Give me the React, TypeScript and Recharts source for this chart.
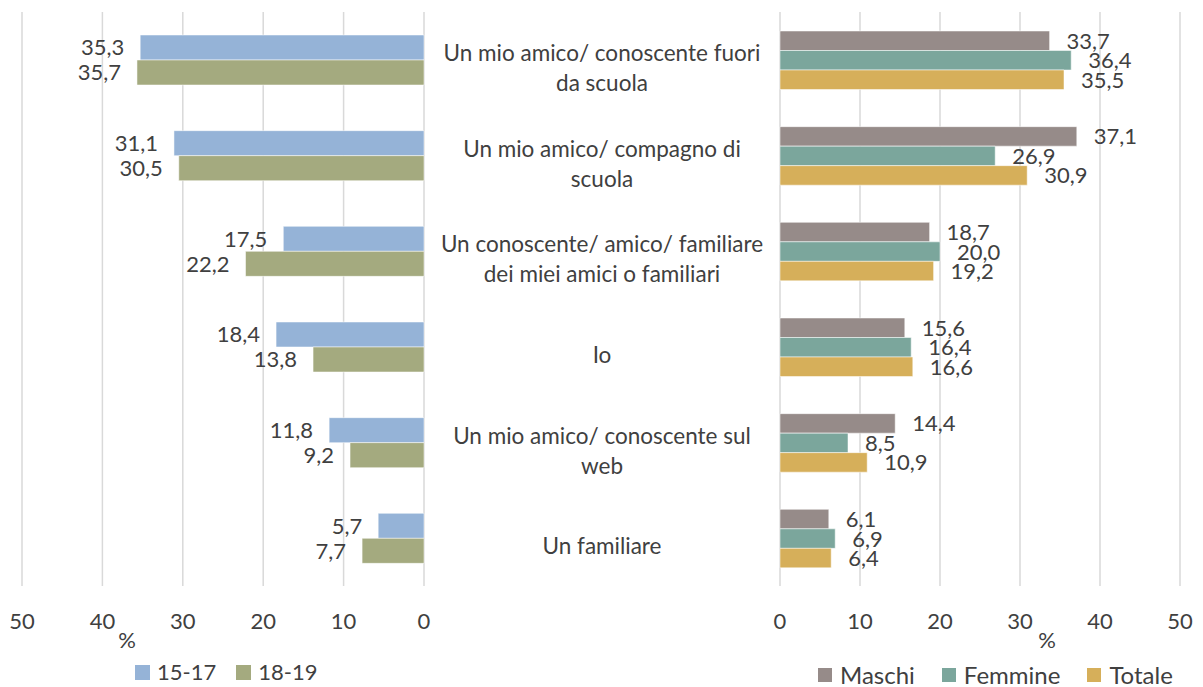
import React from "react";
import { BarChart, Bar, XAxis, YAxis, CartesianGrid, LabelList, Legend } from "recharts";

const categories = [
  "Un mio amico/ conoscente fuori\nda scuola",
  "Un mio amico/ compagno di\nscuola",
  "Un conoscente/ amico/ familiare\ndei miei amici o familiari",
  "Io",
  "Un mio amico/ conoscente sul\nweb",
  "Un familiare",
];
const age1517 = [35.3, 31.1, 17.5, 18.4, 11.8, 5.7];
const age1819 = [35.7, 30.5, 22.2, 13.8, 9.2, 7.7];
const maschi = [33.7, 37.1, 18.7, 15.6, 14.4, 6.1];
const femmine = [36.4, 26.9, 20.0, 16.4, 8.5, 6.9];
const totale = [35.5, 30.9, 19.2, 16.6, 10.9, 6.4];
const xTicks = [0, 10, 20, 30, 40, 50];
const ageNames = ["15-17", "18-19"];
const sexNames = ["Maschi", "Femmine", "Totale"];

const FONT = "Lato, 'Open Sans', sans-serif";
const TEXT = "#404040";
const GRID = "#D9D9D9";

const leftData = categories.map((name, i) => ({ name, a: age1517[i], b: age1819[i] }));
const rightData = categories.map((name, i) => ({
  name,
  m: maschi[i],
  f: femmine[i],
  t: totale[i],
}));

const fmt = (v: number) => v.toFixed(1).replace(".", ",");

function LeftValue(props: any) {
  const { x, y, width, height, value } = props;
  const edge = Math.min(x, x + width);
  return (
    <text x={edge - 16} y={y + height / 2} dy="0.36em" textAnchor="end" fill={TEXT} fontSize={22} fontFamily={FONT}>
      {fmt(value)}
    </text>
  );
}

function RightValue(props: any) {
  const { x, y, width, height, value } = props;
  const edge = Math.max(x, x + width);
  return (
    <text x={edge + 17} y={y + height / 2} dy="0.36em" textAnchor="start" fill={TEXT} fontSize={22} fontFamily={FONT}>
      {fmt(value)}
    </text>
  );
}

function CategoryTick(props: any) {
  const { x, y, payload } = props;
  const lines = String(payload.value).split("\n");
  const lh = 30;
  const cx = x - 178;
  const start = y + 8 - ((lines.length - 1) * lh) / 2;
  return (
    <text x={cx} y={start} textAnchor="middle" fill={TEXT} fontSize={22.5} fontFamily={FONT}>
      {lines.map((l, i) => (
        <tspan key={i} x={cx} y={start + i * lh} dy="0.36em">
          {l}
        </tspan>
      ))}
    </text>
  );
}

function SwatchLegend(props: any) {
  const { payload, order, box, gap, space, fontSize } = props;
  const items = [...(payload || [])].sort(
    (p: any, q: any) => order.indexOf(p.value) - order.indexOf(q.value)
  );
  return (
    <div style={{ display: "flex", alignItems: "center", fontFamily: FONT, fontSize, color: TEXT, whiteSpace: "nowrap" }}>
      {items.map((p: any, i: number) => (
        <div key={i} style={{ display: "flex", alignItems: "center", marginRight: space }}>
          <span style={{ width: box, height: box, background: p.color, display: "inline-block", marginRight: gap }} />
          <span style={{ lineHeight: 1 }}>{p.value}</span>
        </div>
      ))}
    </div>
  );
}

const tickStyle = { fill: TEXT, fontSize: 22, fontFamily: FONT };

export default function App() {
  return (
    <div style={{ position: "absolute", left: 0, top: 0, width: 1203, height: 687, background: "#fff" }}>
      <div style={{ position: "absolute", left: 0, top: 0 }}>
        <BarChart
          width={440}
          height={687}
          data={leftData}
          layout="vertical"
          margin={{ top: 12, right: 16, bottom: 61, left: 22 }}
          barGap={0}
        >
          <CartesianGrid horizontal={false} stroke={GRID} strokeWidth={1.5} />
          <XAxis
            type="number"
            domain={[0, 50]}
            ticks={xTicks}
            reversed
            axisLine={false}
            tickLine={false}
            tickMargin={21}
            tick={tickStyle}
            height={40}
            label={{ value: "%", position: "bottom", offset: 0, dx: -96, dy: 6, fill: TEXT, fontSize: 22, fontFamily: FONT }}
          />
          <YAxis type="category" dataKey="name" hide />
          <Legend
            layout="horizontal"
            verticalAlign="middle"
            align="center"
            content={(p: any) => <SwatchLegend {...p} order={ageNames} box={15} gap={7} space={20} fontSize={22} />}
            wrapperStyle={{ position: "absolute", left: 135, top: 661, width: "auto", bottom: "auto" }}
          />
          <Bar dataKey="a" name={ageNames[0]} fill="#95B3D7" stroke="#ffffff" strokeOpacity={0.5} barSize={25} isAnimationActive={false}>
            <LabelList dataKey="a" content={LeftValue} />
          </Bar>
          <Bar dataKey="b" name={ageNames[1]} fill="#A4AA7F" stroke="#ffffff" strokeOpacity={0.5} barSize={25} isAnimationActive={false}>
            <LabelList dataKey="b" content={LeftValue} />
          </Bar>
        </BarChart>
      </div>
      <div style={{ position: "absolute", left: 424, top: 0 }}>
        <BarChart
          width={779}
          height={687}
          data={rightData}
          layout="vertical"
          margin={{ top: 12, right: 23, bottom: 61, left: 0 }}
          barGap={0}
        >
          <CartesianGrid horizontal={false} stroke={GRID} strokeWidth={1.5} />
          <XAxis
            type="number"
            domain={[0, 50]}
            ticks={xTicks}
            axisLine={false}
            tickLine={false}
            tickMargin={21}
            tick={tickStyle}
            height={40}
            label={{ value: "%", position: "bottom", offset: 0, dx: 67, dy: 6, fill: TEXT, fontSize: 22, fontFamily: FONT }}
          />
          <YAxis
            type="category"
            dataKey="name"
            width={356}
            axisLine={false}
            tickLine={false}
            tickSize={0}
            tickMargin={0}
            tick={CategoryTick}
            interval={0}
          />
          <Legend
            layout="horizontal"
            verticalAlign="middle"
            align="center"
            content={(p: any) => <SwatchLegend {...p} order={sexNames} box={14} gap={8} space={27} fontSize={24} />}
            wrapperStyle={{ position: "absolute", left: 394, top: 663, width: "auto", bottom: "auto" }}
          />
          <Bar dataKey="m" name={sexNames[0]} fill="#968B89" stroke="#ffffff" strokeOpacity={0.5} barSize={19.5} isAnimationActive={false}>
            <LabelList dataKey="m" content={RightValue} />
          </Bar>
          <Bar dataKey="f" name={sexNames[1]} fill="#7BA69C" stroke="#ffffff" strokeOpacity={0.5} barSize={19.5} isAnimationActive={false}>
            <LabelList dataKey="f" content={RightValue} />
          </Bar>
          <Bar dataKey="t" name={sexNames[2]} fill="#D6AF5A" stroke="#ffffff" strokeOpacity={0.5} barSize={19.5} isAnimationActive={false}>
            <LabelList dataKey="t" content={RightValue} />
          </Bar>
        </BarChart>
      </div>
    </div>
  );
}
